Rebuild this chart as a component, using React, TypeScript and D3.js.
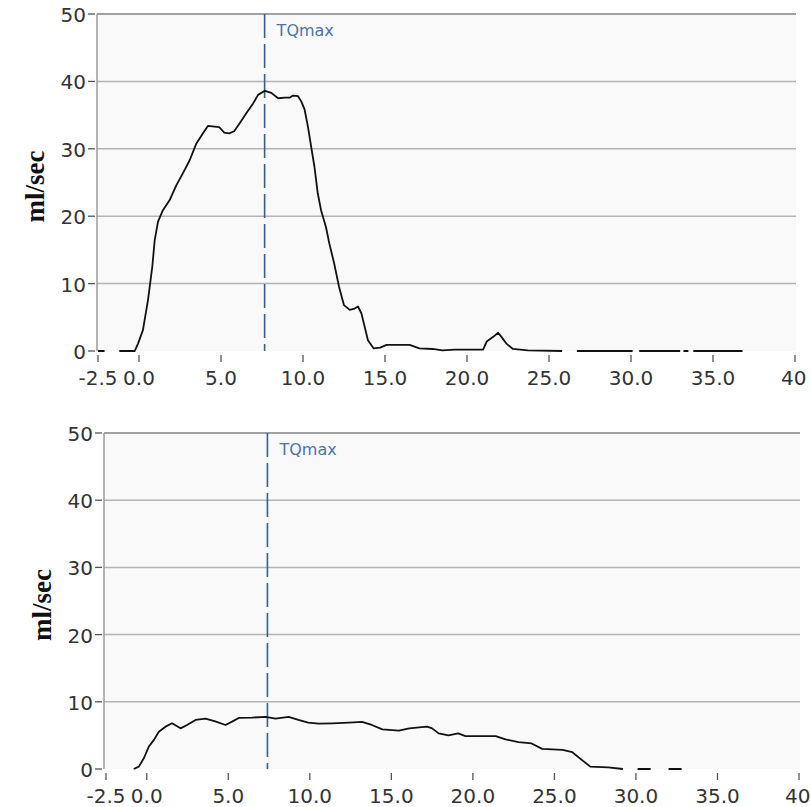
import React from "react";
import * as d3 from "d3";

// ---------- data ----------
const xTicks = [-2.5, 0, 5, 10, 15, 20, 25, 30, 35, 40];
const xTickLabels = ["-2.5", "0.0", "5.0", "10.0", "15.0", "20.0", "25.0", "30.0", "35.0", "40"];
const yTicks = [0, 10, 20, 30, 40, 50];
const yLabel = "ml/sec";
const markerLabel = "TQmax";

const topTime = [
  -2.5, -2.1, -1.6, -1.2, -0.26, -0.06, 0.24, 0.55, 0.81, 0.96, 1.16, 1.46, 1.87, 2.28, 2.68, 3.09,
  3.5, 3.9, 4.2, 4.6, 4.9, 5.2, 5.5, 5.8, 6.14, 6.55, 6.95, 7.26, 7.67, 8.07, 8.48, 8.9, 9.2, 9.4,
  9.7, 9.9, 10.1, 10.3, 10.5, 10.7, 10.9, 11.1, 11.4, 11.6, 11.9, 12.2, 12.5, 12.85, 13.15, 13.35,
  13.56, 13.76, 13.96, 14.3, 14.7, 15.1, 15.7, 16.5, 17.1, 17.9, 18.5, 19.25, 19.96, 20.98, 21.2,
  21.6, 21.9, 22.1, 22.4, 22.8, 23.7, 25.8, 26.2, 26.7, 30.1, 30.3, 30.5, 33.0, 33.1, 33.2, 33.5,
  33.6, 33.8, 36.8,
];
const topFlow: (number | null)[] = [
  0, 0, null, 0, 0, 1.1, 3.1, 7.6, 12.5, 16.5, 19.2, 20.9, 22.4, 24.6, 26.4, 28.3,
  30.8, 32.3, 33.4, 33.3, 33.2, 32.4, 32.3, 32.6, 33.8, 35.3, 36.7, 38.0, 38.6, 38.3, 37.5, 37.6, 37.6, 37.9,
  37.8, 37.0, 35.8, 33.3, 30.3, 27.3, 23.4, 20.9, 18.4, 16.0, 13.0, 9.5, 6.8, 6.1, 6.3, 6.6,
  5.6, 3.6, 1.6, 0.4, 0.5, 0.9, 0.9, 0.9, 0.4, 0.3, 0.1, 0.2, 0.2, 0.2, 1.4,
  2.1, 2.7, 2.1, 1.1, 0.3, 0.1, 0, null, 0, 0, null, 0, 0, null, 0, 0,
  null, 0, 0,
];
const topMarker = 7.66;

const bottomTime = [
  -0.8, -0.49, -0.18, 0.12, 0.43, 0.74, 1.15, 1.55, 2.07, 2.47, 2.99, 3.6, 4.2, 4.83, 5.23, 5.64,
  6.46, 7.28, 7.9, 8.7, 9.3, 9.9, 10.55, 11.37, 12.4, 13.2, 13.8, 14.45, 15.46, 16.1, 16.7, 17.2,
  17.5, 17.9, 18.5, 19.1, 19.55, 21.4, 22.0, 22.8, 23.6, 24.25, 25.5, 26.1, 26.6, 27.2, 28.3, 29.2,
  29.6, 30.1, 30.9, 31.5, 32.0, 32.8,
];
const bottomFlow: (number | null)[] = [
  0, 0.35, 1.6, 3.3, 4.3, 5.55, 6.3, 6.8, 6.05, 6.55, 7.3, 7.5, 7.1, 6.55, 7.05, 7.6,
  7.65, 7.75, 7.5, 7.75, 7.3, 6.9, 6.75, 6.8, 6.9, 7.0, 6.55, 5.9, 5.7, 6.05, 6.2, 6.3,
  6.05, 5.3, 5.0, 5.3, 4.9, 4.9, 4.4, 4.0, 3.8, 3.0, 2.85, 2.5, 1.5, 0.35, 0.25, 0,
  null, 0, 0, null, 0, 0,
];
const bottomMarker = 7.4;

type Pt = { t: number; v: number | null };

interface PanelProps {
  time: number[];
  flow: (number | null)[];
  marker: number;
  axisX: number;
  x0: number;
  x1: number;
  yTop: number;
  yBottom: number;
  labelX: number;
}

const tickFont = "'DejaVu Sans', Verdana, sans-serif";

function Panel({ time, flow, marker, axisX, x0, x1, yTop, yBottom, labelX }: PanelProps) {
  const x = d3.scaleLinear().domain([-2.5, 40]).range([x0, x1]);
  const y = d3.scaleLinear().domain([0, 50]).range([yBottom, yTop]);
  const pts: Pt[] = time.map((t, i) => ({ t, v: flow[i] }));
  const line = d3
    .line<Pt>()
    .defined((d) => d.v !== null)
    .x((d) => x(d.t))
    .y((d) => y(d.v as number));
  const right = x1 + 1;
  const mx = x(marker);
  return (
    <g>
      <rect x={axisX} y={yTop} width={right - axisX} height={yBottom - yTop} fill="#f9f9f9" />
      {yTicks.filter((t) => t > 0).map((t) => (
        <line
          key={"g" + t}
          x1={axisX}
          x2={right}
          y1={y(t)}
          y2={y(t)}
          stroke={t === 50 ? "#a0a0a0" : "#b4b4b4"}
          strokeWidth={t === 50 ? 2 : 1.5}
        />
      ))}
      <line x1={axisX} x2={axisX} y1={yTop} y2={yBottom} stroke="#9a9a9a" strokeWidth={1.5} />
      {yTicks.map((t) => (
        <g key={"y" + t}>
          <line x1={axisX - 9} x2={axisX - 2} y1={y(t)} y2={y(t)} stroke="#555" strokeWidth={1.3} />
          <text
            x={axisX - 11}
            y={y(t) + 1}
            textAnchor="end"
            dominantBaseline="central"
            fontFamily={tickFont}
            fontSize={20}
            fill="#333"
          >
            {t}
          </text>
        </g>
      ))}
      {xTicks.map((t, i) => {
        const last = i === xTicks.length - 1;
        return (
          <g key={"x" + t}>
            <line x1={x(t)} x2={x(t)} y1={yBottom + 4} y2={yBottom + 11} stroke="#555" strokeWidth={1.3} />
            <text
              x={last ? x(t) - 14 : x(t)}
              y={yBottom + 34}
              textAnchor={last ? "start" : "middle"}
              fontFamily={tickFont}
              fontSize={20}
              fill="#333"
            >
              {xTickLabels[i]}
            </text>
          </g>
        );
      })}
      <line
        x1={mx}
        x2={mx}
        y1={yTop}
        y2={yBottom}
        stroke="#3a5f86"
        strokeWidth={1.6}
        strokeDasharray="24,6"
      />
      <text x={mx + 12} y={yTop + 22} fontFamily={tickFont} fontSize={16} fill="#4a74a8">
        {markerLabel}
      </text>
      <path d={line(pts) || ""} fill="none" stroke="#111" strokeWidth={1.8} strokeLinejoin="round" />
      <text
        transform={`translate(${labelX},${(yTop + yBottom) / 2 + 4}) rotate(-90)`}
        textAnchor="middle"
        fontFamily="'Liberation Serif', 'Times New Roman', serif"
        fontWeight="bold"
        fontSize={27}
        fill="#111"
      >
        {yLabel}
      </text>
    </g>
  );
}

export default function App() {
  return (
    <svg
      width={811}
      height={807}
      style={{ position: "absolute", left: 0, top: 0, background: "#fff" }}
    >
      <rect width={811} height={807} fill="#fff" />
      <Panel
        time={topTime}
        flow={topFlow}
        marker={topMarker}
        axisX={97}
        x0={98}
        x1={795}
        yTop={14}
        yBottom={351}
        labelX={44}
      />
      <Panel
        time={bottomTime}
        flow={bottomFlow}
        marker={bottomMarker}
        axisX={104}
        x0={106}
        x1={799}
        yTop={433}
        yBottom={769}
        labelX={51}
      />
    </svg>
  );
}
